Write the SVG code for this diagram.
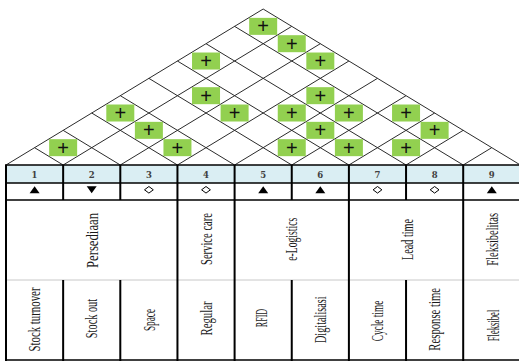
<svg xmlns="http://www.w3.org/2000/svg" width="519" height="361" viewBox="0 0 519 361">
<style>
.roof{stroke:#2b2b2b;stroke-width:1;fill:none}
.cell rect{fill:#92d050}
.plus{font-family:"Liberation Sans",Arial,sans-serif;font-size:20px;fill:#111;text-anchor:middle}
.num{font-family:"DejaVu Serif","Liberation Serif",serif;font-size:8.5px;font-weight:bold;fill:#404040;text-anchor:middle}
.lbl{font-family:"Liberation Serif","Times New Roman",serif;font-size:17px;fill:#1a1a1a;text-anchor:middle}
.vl{stroke:#000;stroke-width:2}
.hl{stroke:#000;stroke-width:1.6}
.sym{fill:#000}
.symo{fill:none;stroke:#000;stroke-width:1}
</style>
<rect width="519" height="361" fill="#fff"/>
<!-- Roof grid (connectors) -->
<g id="roof-grid" class="roof">
<path d="M6,165 L263.175,9.03 M63.15,165 L291.75,26.36 M120.3,165 L320.325,43.69 M177.45,165 L348.9,61.02 M234.6,165 L377.475,78.35 M291.75,165 L406.05,95.68 M348.9,165 L434.625,113.01 M406.05,165 L463.2,130.34 M463.2,165 L491.775,147.67"/>
<path d="M520.35,165 L263.175,9.03 M463.2,165 L234.6,26.36 M406.05,165 L206.025,43.69 M348.9,165 L177.45,61.02 M291.75,165 L148.875,78.35 M234.6,165 L120.3,95.68 M177.45,165 L91.725,113.01 M120.3,165 L63.15,130.34 M63.15,165 L34.575,147.67"/>
</g>
<!-- Correlation cells -->
<g id="c1-2" class="cell"><rect x="49.15" y="139.17" width="28" height="17"/><text class="plus" x="63.15" y="154.67">+</text></g>
<g id="c1-4" class="cell"><rect x="106.3" y="104.51" width="28" height="17"/><text class="plus" x="120.3" y="120.01">+</text></g>
<g id="c2-4" class="cell"><rect x="134.875" y="121.84" width="28" height="17"/><text class="plus" x="148.875" y="137.34">+</text></g>
<g id="c3-4" class="cell"><rect x="163.45" y="139.17" width="28" height="17"/><text class="plus" x="177.45" y="154.67">+</text></g>
<g id="c1-7" class="cell"><rect x="192.025" y="52.52" width="28" height="17"/><text class="plus" x="206.025" y="68.02">+</text></g>
<g id="c2-6" class="cell"><rect x="192.025" y="87.18" width="28" height="17"/><text class="plus" x="206.025" y="102.68">+</text></g>
<g id="c3-6" class="cell"><rect x="220.6" y="104.51" width="28" height="17"/><text class="plus" x="234.6" y="120.01">+</text></g>
<g id="c1-9" class="cell"><rect x="249.175" y="17.86" width="28" height="17"/><text class="plus" x="263.175" y="33.36">+</text></g>
<g id="c2-9" class="cell"><rect x="277.75" y="35.19" width="28" height="17"/><text class="plus" x="291.75" y="50.69">+</text></g>
<g id="c4-7" class="cell"><rect x="277.75" y="104.51" width="28" height="17"/><text class="plus" x="291.75" y="120.01">+</text></g>
<g id="c5-6" class="cell"><rect x="277.75" y="139.17" width="28" height="17"/><text class="plus" x="291.75" y="154.67">+</text></g>
<g id="c3-9" class="cell"><rect x="306.325" y="52.52" width="28" height="17"/><text class="plus" x="320.325" y="68.02">+</text></g>
<g id="c4-8" class="cell"><rect x="306.325" y="87.18" width="28" height="17"/><text class="plus" x="320.325" y="102.68">+</text></g>
<g id="c5-7" class="cell"><rect x="306.325" y="121.84" width="28" height="17"/><text class="plus" x="320.325" y="137.34">+</text></g>
<g id="c5-8" class="cell"><rect x="334.9" y="104.51" width="28" height="17"/><text class="plus" x="348.9" y="120.01">+</text></g>
<g id="c6-7" class="cell"><rect x="334.9" y="139.17" width="28" height="17"/><text class="plus" x="348.9" y="154.67">+</text></g>
<g id="c6-9" class="cell"><rect x="392.05" y="104.51" width="28" height="17"/><text class="plus" x="406.05" y="120.01">+</text></g>
<g id="c7-8" class="cell"><rect x="392.05" y="139.17" width="28" height="17"/><text class="plus" x="406.05" y="154.67">+</text></g>
<g id="c7-9" class="cell"><rect x="420.625" y="121.84" width="28" height="17"/><text class="plus" x="434.625" y="137.34">+</text></g>
<!-- Table -->
<g id="table">
<rect x="6" y="165" width="514.35" height="18" fill="#daeef3"/>
<line class="hl" x1="5" y1="165" x2="521" y2="165" stroke-width="2"/>
<line class="hl" x1="6" y1="183" x2="521" y2="183"/>
<line class="hl" x1="6" y1="200" x2="521" y2="200"/>
<line x1="6" y1="280" x2="521" y2="280" stroke="#c8c8c8" stroke-width="1"/>
<line class="hl" x1="5" y1="360" x2="521" y2="360" stroke-width="2"/>
<path class="vl" d="M6,165V361 M177.45,165V361 M234.6,165V361 M348.9,165V361 M463.2,165V361 M520.35,165V361 M63.15,165V200 M120.3,165V200 M291.75,165V200 M406.05,165V200 M63.15,280V361 M120.3,280V361 M291.75,280V361 M406.05,280V361"/>
</g>
<g id="col1"><text class="num" x="34.575" y="177.5">1</text><path class="sym" d="M29.6,193.3H39.6L34.6,186.3Z"/>
<text class="lbl" transform="translate(40.2,319.5) rotate(-90)" textLength="64" lengthAdjust="spacingAndGlyphs">Stock turnover</text></g>
<g id="col2"><text class="num" x="91.725" y="177.5">2</text><path class="sym" d="M86.7,186.3H96.7L91.7,193.3Z"/>
<text class="lbl" transform="translate(97.4,318.5) rotate(-90)" textLength="39.3" lengthAdjust="spacingAndGlyphs">Stock out</text></g>
<g id="col3"><text class="num" x="148.875" y="177.5">3</text><path class="symo" d="M144.5,189.8L148.9,186.5L153.3,189.8L148.9,193.1Z"/>
<text class="lbl" transform="translate(154.6,320) rotate(-90)" textLength="22" lengthAdjust="spacingAndGlyphs">Space</text></g>
<g id="grp-persediaan"><text class="lbl" transform="translate(97.8,240.5) rotate(-90)" textLength="55" lengthAdjust="spacingAndGlyphs">Persediaan</text></g>
<g id="col4"><text class="num" x="206.025" y="177.5">4</text><path class="symo" d="M201.6,189.8L206,186.5L210.4,189.8L206,193.1Z"/>
<text class="lbl" transform="translate(212.1,239) rotate(-90)" textLength="52" lengthAdjust="spacingAndGlyphs">Service care</text>
<text class="lbl" transform="translate(211.8,318.5) rotate(-90)" textLength="34" lengthAdjust="spacingAndGlyphs">Regular</text></g>
<g id="col5"><text class="num" x="263.175" y="177.5">5</text><path class="sym" d="M258.2,193.3H268.2L263.2,186.3Z"/>
<text class="lbl" transform="translate(267,318) rotate(-90)" textLength="18.3" lengthAdjust="spacingAndGlyphs">RFID</text></g>
<g id="col6"><text class="num" x="320.325" y="177.5">6</text><path class="sym" d="M315.3,193.3H325.3L320.3,186.3Z"/>
<text class="lbl" transform="translate(325.8,319.7) rotate(-90)" textLength="46.7" lengthAdjust="spacingAndGlyphs">Digitalisasi</text></g>
<g id="grp-elogistics"><text class="lbl" transform="translate(297.3,239.3) rotate(-90)" textLength="43" lengthAdjust="spacingAndGlyphs">e-Logistics</text></g>
<g id="col7"><text class="num" x="377.475" y="177.5">7</text><path class="symo" d="M373.1,189.8L377.5,186.5L381.9,189.8L377.5,193.1Z"/>
<text class="lbl" transform="translate(383.3,321) rotate(-90)" textLength="40.6" lengthAdjust="spacingAndGlyphs">Cycle time</text></g>
<g id="col8"><text class="num" x="434.625" y="177.5">8</text><path class="symo" d="M430.2,189.8L434.6,186.5L439,189.8L434.6,193.1Z"/>
<text class="lbl" transform="translate(440.3,319.3) rotate(-90)" textLength="62.7" lengthAdjust="spacingAndGlyphs">Response time</text></g>
<g id="grp-leadtime"><text class="lbl" transform="translate(412.8,239.5) rotate(-90)" textLength="41" lengthAdjust="spacingAndGlyphs">Lead time</text></g>
<g id="col9"><text class="num" x="491.775" y="177.5">9</text><path class="sym" d="M486.8,193.3H496.8L491.8,186.3Z"/>
<text class="lbl" transform="translate(498.3,239.3) rotate(-90)" textLength="52.7" lengthAdjust="spacingAndGlyphs">Fleksibelitas</text>
<text class="lbl" transform="translate(498.8,325.5) rotate(-90)" textLength="31.6" lengthAdjust="spacingAndGlyphs">Fleksibel</text></g>
</svg>
